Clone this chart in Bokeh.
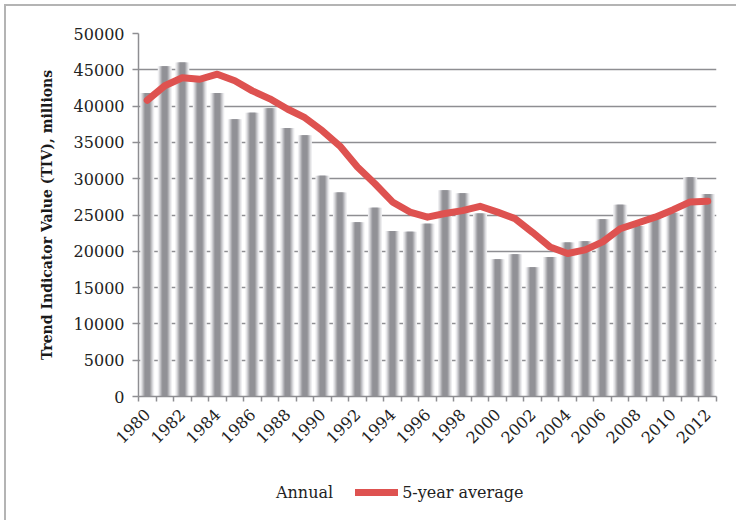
from bokeh.plotting import figure
from bokeh.models import FixedTicker, Range1d, Legend, LegendItem
from bokeh.layouts import column
from bokeh.embed import file_html
from bokeh.resources import INLINE
import math

years = list(range(1980, 2013))
annual = [41800, 45500, 46000, 43700, 41800, 38200, 39100, 39700, 37000, 36000,
          30400, 28100, 24000, 26000, 22800, 22700, 23800, 28400, 28000, 25200,
          18900, 19600, 17800, 19200, 21200, 21400, 24400, 26400, 23500, 24700,
          25300, 30200, 27900]
avg5 = [40800, 42800, 43900, 43700, 44400, 43500, 42100, 41000, 39600, 38400,
        36600, 34500, 31600, 29300, 26800, 25400, 24700, 25200, 25600, 26200,
        25400, 24500, 22600, 20600, 19700, 20200, 21300, 23100, 23900, 24700,
        25700, 26800, 26900]
y_ticks = list(range(0, 50001, 5000))
x_label_years = list(range(1980, 2013, 2))
series_names = ["Annual", "5-year average"]
y_title = "Trend Indicator Value (TIV), millions"

FONT = "DejaVu Serif"
RED = "#de5250"
GRID = "#8e8e92"

p = figure(frame_width=578, frame_height=363,
           x_range=Range1d(years[0] - 0.5, years[-1] + 0.5),
           y_range=Range1d(0, 50000),
           output_backend="svg", toolbar_location=None,
           min_border_left=132, min_border_right=20,
           min_border_top=27, min_border_bottom=66)
p.outline_line_color = None
p.background_fill_color = "white"

# grid
p.xgrid.visible = False
p.ygrid.ticker = FixedTicker(ticks=y_ticks)
p.ygrid.grid_line_color = GRID
p.ygrid.grid_line_width = 1.5

# bars with cylinder-like shading (layered)
layers = [(0.80, "#eeeef0"), (0.66, "#d8d8db"), (0.54, "#bfbfc3"),
          (0.42, "#a4a4a8"), (0.30, "#919196")]
for w, c in layers:
    p.vbar(x=years, top=annual, width=w, bottom=0, fill_color=c, line_color=None)

p.line(years, avg5, line_color=RED, line_width=7, line_cap="round", line_join="round")

# y axis
p.yaxis.ticker = FixedTicker(ticks=y_ticks)
p.yaxis.major_label_overrides = {t: str(t) for t in y_ticks}
p.yaxis.axis_line_color = GRID
p.yaxis.axis_line_width = 1.5
p.yaxis.major_tick_line_color = GRID
p.yaxis.major_tick_line_width = 1.5
p.yaxis.major_tick_out = 6
p.yaxis.major_tick_in = 0
p.yaxis.minor_tick_line_color = None
p.yaxis.major_label_text_font = FONT
p.yaxis.major_label_text_font_size = "16px"
p.yaxis.major_label_text_color = "#222222"
p.yaxis.major_label_standoff = 8
p.yaxis.axis_label = y_title
p.yaxis.axis_label_text_font = FONT
p.yaxis.axis_label_text_font_style = "bold"
p.yaxis.axis_label_text_font_size = "14px"
p.yaxis.axis_label_text_color = "#1a1a1a"
p.yaxis.axis_label_standoff = 16

# x axis
p.xaxis.ticker = FixedTicker(ticks=x_label_years,
                             minor_ticks=[y - 0.5 for y in years] + [years[-1] + 0.5])
p.xaxis.major_label_overrides = {y: str(y) for y in x_label_years}
p.xaxis.major_label_orientation = math.pi / 4
p.xaxis.axis_line_color = GRID
p.xaxis.axis_line_width = 1.5
p.xaxis.major_tick_out = 0
p.xaxis.major_tick_in = 0
p.xaxis.minor_tick_out = 5
p.xaxis.minor_tick_in = 0
p.xaxis.minor_tick_line_color = GRID
p.xaxis.minor_tick_line_width = 1.5
p.xaxis.major_label_text_font = FONT
p.xaxis.major_label_text_font_size = "16px"
p.xaxis.major_label_text_color = "#222222"
p.xaxis.major_label_standoff = 10

# legend strip below the chart (Annual swatch invisible as in reference)
lg = figure(frame_width=578, frame_height=58,
            x_range=Range1d(0, 1), y_range=Range1d(0, 1),
            output_backend="svg", toolbar_location=None,
            x_axis_location=None, y_axis_location=None,
            min_border_left=132, min_border_right=20,
            min_border_top=0, min_border_bottom=0)
lg.outline_line_color = None
lg.xgrid.visible = False
lg.ygrid.visible = False
# proxies for the legend swatches (their data lies outside this strip's ranges)
d_bar = lg.vbar(x=years, top=annual, width=0.5, fill_alpha=0, line_alpha=0)
d_line = lg.line(years, avg5, line_color=RED, line_width=7, line_cap="round")
legend = Legend(items=[LegendItem(label=series_names[0], renderers=[d_bar]),
                       LegendItem(label=series_names[1], renderers=[d_line])],
                location=(91, 18), orientation="horizontal",
                glyph_width=43, glyph_height=20, label_standoff=4, spacing=22,
                padding=0, margin=0, border_line_color=None,
                background_fill_alpha=0,
                label_text_font=FONT, label_text_font_size="16px",
                label_text_color="#222222")
lg.add_layout(legend, "center")

layout = column(p, lg, spacing=0)
layout.stylesheets = [":host { margin-left: 4px; margin-top: 4px; "
                      "border-left: 2px solid #b4b4b4; border-top: 2px solid #b4b4b4; }"]

open("out.html", "w").write(file_html(layout, INLINE))
